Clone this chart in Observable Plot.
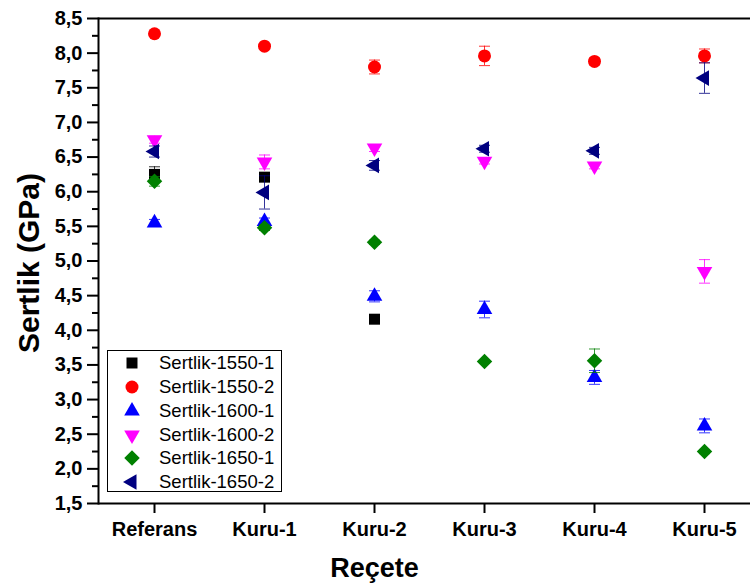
<!DOCTYPE html>
<html><head><meta charset="utf-8">
<script src="https://cdn.jsdelivr.net/npm/d3@7"></script>
<script src="https://cdn.jsdelivr.net/npm/@observablehq/plot@0.6"></script>
<style>
body{margin:0;background:#fff;}
#wrap{position:relative;width:750px;height:586px;overflow:hidden;font-family:"Liberation Sans",Arial,sans-serif;}
#legend{position:absolute;left:107px;top:350px;width:173px;height:140px;border:1px solid #000;background:#fff;}
.lsym{position:absolute;width:20px;height:20px;}
.ltxt{position:absolute;font-size:18.5px;line-height:1;color:#000;transform:translateY(-50%);white-space:nowrap;}
</style></head><body><div id="wrap"></div>
<script>
const cats = ["Referans","Kuru-1","Kuru-2","Kuru-3","Kuru-4","Kuru-5"];
const seriesNames = ["Sertlik-1550-1","Sertlik-1550-2","Sertlik-1600-1","Sertlik-1600-2","Sertlik-1650-1","Sertlik-1650-2"];

const v1550_1 = [6.25, 6.21, 4.16, null, null, null];
const e1550_1 = [0.11, 0.05, 0.03, null, null, null];
const v1550_2 = [8.28, 8.10, 7.80, 7.96, 7.88, 7.96];
const e1550_2 = [0.03, 0.03, 0.10, 0.14, 0.05, 0.10];
const v1600_1 = [5.55, 5.57, 4.49, 4.30, 3.32, 2.62];
const e1600_1 = [0.05, 0.05, 0.08, 0.12, 0.10, 0.10];
const v1600_2 = [6.75, 6.43, 6.63, 6.44, 6.37, 4.85];
const e1600_2 = [0.05, 0.10, 0.05, 0.04, 0.04, 0.17];
const v1650_1 = [6.15, 5.48, 5.27, 3.55, 3.56, 2.25];
const e1650_1 = [0.07, 0.04, 0.03, 0.02, 0.17, 0.03];
const v1650_2 = [6.58, 5.99, 6.38, 6.62, 6.59, 7.64];
const e1650_2 = [0.08, 0.24, 0.07, 0.05, 0.05, 0.22];

const yTicks = [1.5,2.0,2.5,3.0,3.5,4.0,4.5,5.0,5.5,6.0,6.5,7.0,7.5,8.0,8.5];
const yMinor = [1.75,2.25,2.75,3.25,3.75,4.25,4.75,5.25,5.75,6.25,6.75,7.25,7.75,8.25];

const values = [v1550_1, v1550_2, v1600_1, v1600_2, v1650_1, v1650_2];
const errors = [e1550_1, e1550_2, e1600_1, e1600_2, e1650_1, e1650_2];
const colors = ["#000000","#ff0000","#0000ff","#ff00ff","#008000","#000080"];
const symbols = ["square","circle","triangle","triangle","square","triangle"];
const d3symbols = [d3.symbolSquare, d3.symbolCircle, d3.symbolTriangle, d3.symbolTriangle, d3.symbolSquare, d3.symbolTriangle];
const rotations = [0, 0, 0, 180, 45, -90];
const radii = [6.2, 6.5, 5.8, 5.8, 6.2, 5.8];

// horizontal cap symbol for error bars
const capSymbol = {draw(ctx, size) { const w = 5.5; ctx.moveTo(-w, 0); ctx.lineTo(w, 0); }};

const marks = [];
seriesNames.forEach((name, i) => {
  const rows = cats.map((c, j) => ({series: name, cat: c, v: values[i][j], e: errors[i][j]}))
                   .filter(d => d.v != null);
  marks.push(
    Plot.ruleX(rows, {x: "cat", y1: d => d.v - d.e, y2: d => d.v + d.e, stroke: colors[i], strokeWidth: 1, strokeOpacity: 0.8}),
    Plot.dot(rows, {x: "cat", y: d => d.v + d.e, symbol: capSymbol, r: 5, fill: "none", stroke: colors[i], strokeWidth: 1, strokeOpacity: 0.8}),
    Plot.dot(rows, {x: "cat", y: d => d.v - d.e, symbol: capSymbol, r: 5, fill: "none", stroke: colors[i], strokeWidth: 1, strokeOpacity: 0.8}),
    Plot.dot(rows, {x: "cat", y: "v", symbol: symbols[i], r: radii[i], rotate: rotations[i], fill: colors[i], stroke: "none"})
  );
});

const chart = Plot.plot({
  width: 750,
  height: 586,
  marginLeft: 98,
  marginRight: 0,
  marginTop: 18,
  marginBottom: 83,
  style: {fontFamily: "'Liberation Sans', Arial, sans-serif", fontSize: "20px", fontWeight: "bold", color: "#000", background: "#fff"},
  x: {type: "point", domain: cats, range: [98, 759], padding: 0.5},
  y: {domain: [1.5, 8.5]},
  marks: [
    ...marks,
    Plot.ruleY([1.5, 8.5], {stroke: "#000", strokeWidth: 2}),
    Plot.frame({anchor: "left", stroke: "#000", strokeWidth: 2}),
    Plot.axisY({ticks: yTicks, tickSize: 11, tickPadding: 5, strokeWidth: 2, label: null,
                tickFormat: d => d.toFixed(1).replace(".", ",")}),
    Plot.axisY({ticks: yMinor, tickSize: 6, strokeWidth: 2, label: null, tickFormat: () => ""}),
    Plot.axisX({tickSize: 10, tickPadding: 8, strokeWidth: 2, label: null}),
    Plot.text(["Sertlik (GPa)"], {frameAnchor: "left", textAnchor: "middle", lineAnchor: "middle", dx: -69, dy: 2, rotate: -90, fontSize: 30, fontWeight: "bold", fill: "#000"}),
    Plot.text(["Reçete"], {frameAnchor: "bottom", textAnchor: "middle", lineAnchor: "middle", dx: -50, dy: 65, fontSize: 27, fontWeight: "bold", fill: "#000"})
  ]
});

const wrap = document.getElementById("wrap");
wrap.appendChild(chart);

// legend overlay
const legend = document.createElement("div");
legend.id = "legend";
wrap.appendChild(legend);
const rowY = [363.3, 386.9, 410.5, 434.8, 458.3, 481.7];
seriesNames.forEach((name, i) => {
  const size = Math.PI * radii[i] * radii[i];
  const path = d3.symbol(d3symbols[i], size)();
  const s = document.createElementNS("http://www.w3.org/2000/svg", "svg");
  s.setAttribute("class", "lsym");
  s.setAttribute("width", 20); s.setAttribute("height", 20);
  s.style.left = (132.3 - 10) + "px";
  s.style.top = (rowY[i] - 10) + "px";
  const p = document.createElementNS("http://www.w3.org/2000/svg", "path");
  p.setAttribute("d", path);
  p.setAttribute("fill", colors[i]);
  p.setAttribute("transform", `translate(10,10) rotate(${rotations[i]})`);
  s.appendChild(p);
  wrap.appendChild(s);
  const t = document.createElement("div");
  t.className = "ltxt";
  t.textContent = name;
  t.style.left = "159px";
  t.style.top = rowY[i] + "px";
  wrap.appendChild(t);
});
</script></body></html>
